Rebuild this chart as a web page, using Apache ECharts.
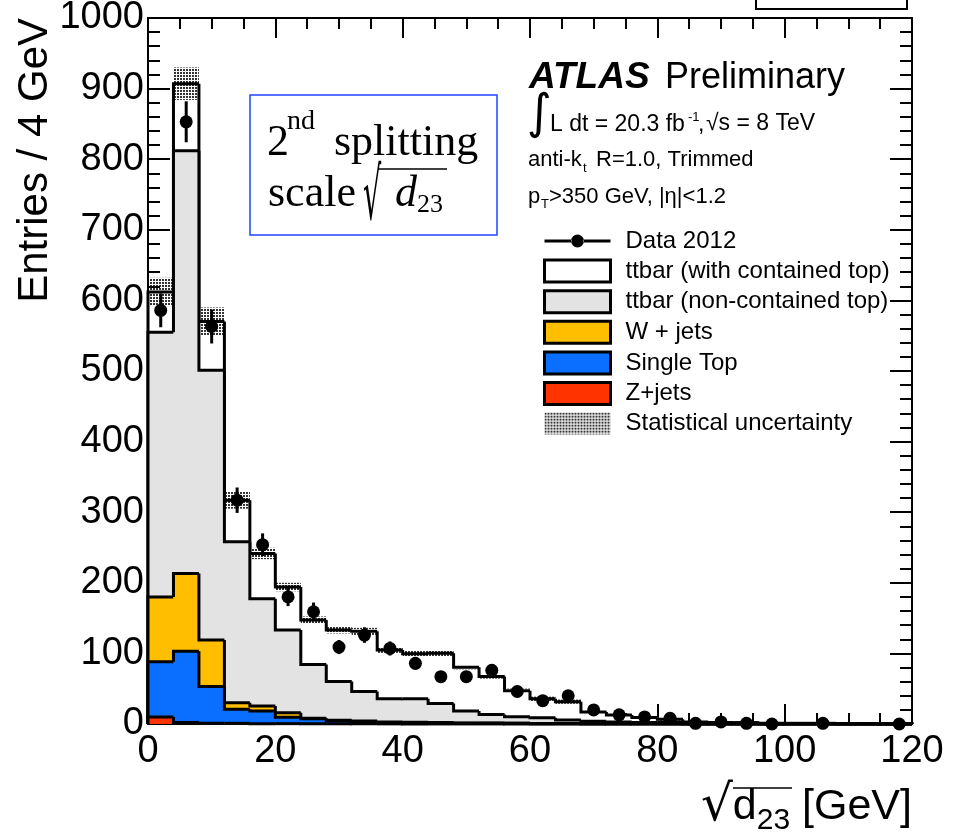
<!DOCTYPE html>
<html>
<head>
<meta charset="utf-8">
<script src="https://cdn.jsdelivr.net/npm/echarts@6/dist/echarts.min.js"></script>
<style>
html,body{margin:0;padding:0;background:#fff;}
#c{width:953px;height:835px;}
</style>
</head>
<body>
<div id="c"></div>
<script>
// ---- data ----
const binLow = [0,4,8,12,16,20,24,28,32,36,40,44,48,52,56,60,64,68,72,76,80,84,88,92,96,100,104,108,112,116];
const binWidth = 4;
const xTicks = [0,20,40,60,80,100,120];
const yTicks = [0,100,200,300,400,500,600,700,800,900,1000];

const zJets     = [10,2,1,1,0.5,0.5,0.3,0.3,0.2,0.2,0.1,0.1,0.1,0.1,0,0,0,0,0,0,0,0,0,0,0,0,0,0,0,0];
const singleTop = [78,101,52,20,18,9,7,4,3,2,2,1.5,1,1,1,0.5,0.5,0.4,0.3,0.2,0.2,0.1,0.1,0.1,0,0,0,0,0,0];
const wJets     = [92,110,66,9,7,6.5,1,1,1,0.5,0.5,0.5,0.3,0.2,0.2,0.2,0.1,0.1,0.1,0.1,0,0.1,0,0,0.1,0,0,0,0,0];
const ttNonCont = [375,599,382,228,152,117,76,55,42,33,33,27,17,12,9,8,5,3.5,2.5,2,1.8,1.3,0.9,0.9,0.4,0.5,0.5,0.3,0.3,0.2];
const ttCont    = [57,95,69,59,64,61,63,73,85,69,64,71,62,54,37,27,26,13,10,7,4.6,1.5,1,1,0.5,0.5,0.5,0.2,0.2,0.1];
const statErr   = [20,23,20,12,8,6,5,5,5,4,4,4,3,3,3,3,3,2,2,2,2,1,1,1,1,1,1,1,1,1];
const data2012  = [586,853,563,317,254,180,159,109,126,107,86,67,67,76,46,33,40,20,13,10,8,1,3,1,0,null,1,null,null,0];
const dataErr   = [24,29,24,18,16,13,13,10,11,10,9,8,8,9,7,6,6,4,4,3,3,1,2,1,0,null,1,null,null,0];

const names = {
  data: 'Data 2012',
  cont: 'ttbar (with contained top)',
  non: 'ttbar (non-contained top)',
  w: 'W + jets',
  st: 'Single Top',
  z: 'Z+jets',
  stat: 'Statistical uncertainty'
};
const colors = { cont:'#ffffff', non:'#e3e3e3', w:'#ffbf00', st:'#0a6eff', z:'#ff3300' };

// ---- helpers ----
function addArr(a, b){ return a.map((v,i)=>v + b[i]); }
const cumZ   = zJets.slice();
const cumST  = addArr(cumZ, singleTop);
const cumW   = addArr(cumST, wJets);
const cumNon = addArr(cumW, ttNonCont);
const cumTot = addArr(cumNon, ttCont);

const pc = document.createElement('canvas');
pc.width = 3; pc.height = 3;
const pg = pc.getContext('2d');
pg.fillStyle = 'rgba(0,0,0,0.8)';
pg.fillRect(0,0,2,2);
const dotPattern = { image: pc, repeat: 'repeat' };

function histSeries(name, cum, color){
  const n = binLow.length;
  return {
    name: name, type: 'custom', xAxisIndex: 0, yAxisIndex: 0,
    data: binLow.map((lo,i)=>[lo, lo+binWidth, cum[i], i>0?cum[i-1]:0, i===n-1?1:0]),
    encode: { x:[0,1], y:[2] },
    itemStyle: { color: color },
    renderItem: function(params, api){
      const lo=api.value(0), hi=api.value(1), top=api.value(2), prev=api.value(3), last=api.value(4);
      const a = api.coord([lo,0]), b = api.coord([hi,top]), p = api.coord([lo,prev]);
      const pts = [[a[0],p[1]],[a[0],b[1]],[b[0],b[1]]];
      if (last) pts.push([b[0],a[1]]);
      return { type:'group', children:[
        { type:'rect', shape:{ x:a[0], y:b[1], width:(b[0]-a[0]) + (last?0:0.6), height:a[1]-b[1] }, style:{ fill: color } },
        { type:'polyline', shape:{ points: pts }, style:{ stroke:'#000', lineWidth:3, fill:null } }
      ]};
    },
    z: 2
  };
}

const dataIcon = 'path://M0,0 L0.01,0 L0.01,0.01 Z M66,22 L65.99,22 L65.99,21.99 Z ' +
  'M0,9.5 L27,9.5 L27,12.5 L0,12.5 Z M39,9.5 L66,9.5 L66,12.5 L39,12.5 Z ' +
  'M26.5,11 A6.5,6.5 0 1,0 39.5,11 A6.5,6.5 0 1,0 26.5,11 Z';

const FONT = 'Liberation Sans';

function axisCommon(){
  return {
    axisLine: { show:true, onZero:false, lineStyle:{ color:'#000', width:2 } },
    splitLine: { show:false },
    minorSplitLine: { show:false },
    nameMoveOverlap: false
  };
}

const option = {
  backgroundColor: '#fff',
  animation: false,
  grid: { left:148, top:18, right:41, bottom:111, containLabel:false, outerBoundsMode:'none' },
  xAxis: [
    Object.assign(axisCommon(), {
      type:'value', min:0, max:120, interval:20, position:'bottom',
      axisTick: { show:true, inside:true, length:20, lineStyle:{ color:'#000', width:2 } },
      minorTick: { show:true, splitNumber:4, length:11, lineStyle:{ color:'#000', width:2 } },
      axisLabel: { show:true, fontSize:38, fontFamily:FONT, color:'#000', margin:9, showMinLabel:true, showMaxLabel:true, hideOverlap:false,
        formatter: function(v){ return xTicks.indexOf(v) >= 0 ? String(v) : ''; } },
      name: '{r|√}{d|d}{s|23}{t| [GeV]}',
      nameLocation: 'end', nameGap: 0,
      nameTextStyle: {
        align:'right', verticalAlign:'top', padding:[58,0,0,0], color:'#000',
        fontFamily: FONT, fontSize: 43, lineHeight: 50,
        rich: {
          r: { fontFamily:'DejaVu Serif', fontSize:50, lineHeight:50, color:'#000' },
          d: { fontFamily:FONT, fontSize:43, lineHeight:50, color:'#000' },
          s: { fontFamily:FONT, fontSize:30, lineHeight:50, color:'#000', padding:[27,0,0,0] },
          t: { fontFamily:FONT, fontSize:43, lineHeight:50, color:'#000' }
        }
      }
    }),
    Object.assign(axisCommon(), {
      type:'value', min:0, max:120, interval:20, position:'top',
      axisTick: { show:true, inside:true, length:20, lineStyle:{ color:'#000', width:2 } },
      minorTick: { show:true, splitNumber:4, length:11, lineStyle:{ color:'#000', width:2 } },
      axisLabel: { show:false }
    })
  ],
  yAxis: [
    Object.assign(axisCommon(), {
      type:'value', min:0, max:1000, interval:100, position:'left',
      axisTick: { show:true, inside:true, length:22, lineStyle:{ color:'#000', width:2 } },
      minorTick: { show:true, splitNumber:5, length:12, lineStyle:{ color:'#000', width:2 } },
      axisLabel: { show:true, fontSize:38, fontFamily:FONT, color:'#000', margin:4, showMinLabel:true, showMaxLabel:true, hideOverlap:false,
        formatter: function(v){ return yTicks.indexOf(v) >= 0 ? String(v) : ''; } },
      name: 'Entries / 4 GeV',
      nameLocation: 'end', nameGap: 0, nameRotate: 90,
      nameTextStyle: { fontSize:42, fontFamily:FONT, color:'#000', align:'right', verticalAlign:'bottom', padding:[0,0,92,0] }
    }),
    Object.assign(axisCommon(), {
      type:'value', min:0, max:1000, interval:100, position:'right',
      axisTick: { show:true, inside:true, length:22, lineStyle:{ color:'#000', width:2 } },
      minorTick: { show:true, splitNumber:5, length:12, lineStyle:{ color:'#000', width:2 } },
      axisLabel: { show:false }
    })
  ],
  legend: {
    show: true, orient:'vertical', left:543, top:229, padding:0,
    itemWidth:66, itemHeight:22, itemGap:5.6, selectedMode:false,
    textStyle: { fontSize:24, lineHeight:22, fontFamily:FONT, color:'#000', padding:[0,0,0,10] },
    data: [
      { name:names.data, icon:dataIcon, itemStyle:{ color:'#000', borderWidth:0, opacity:1 } },
      { name:names.cont, icon:'rect', itemStyle:{ color:colors.cont, borderColor:'#000', borderWidth:3 } },
      { name:names.non,  icon:'rect', itemStyle:{ color:colors.non,  borderColor:'#000', borderWidth:3 } },
      { name:names.w,    icon:'rect', itemStyle:{ color:colors.w,    borderColor:'#000', borderWidth:3 } },
      { name:names.st,   icon:'rect', itemStyle:{ color:colors.st,   borderColor:'#000', borderWidth:3 } },
      { name:names.z,    icon:'rect', itemStyle:{ color:colors.z,    borderColor:'#000', borderWidth:3 } },
      { name:names.stat, icon:'rect', itemStyle:{ color:dotPattern,  borderWidth:0 } }
    ]
  },
  series: [
    histSeries(names.cont, cumTot, colors.cont),
    histSeries(names.non,  cumNon, colors.non),
    histSeries(names.w,    cumW,   colors.w),
    histSeries(names.st,   cumST,  colors.st),
    histSeries(names.z,    cumZ,   colors.z),
    {
      name: names.stat, type:'custom', xAxisIndex:0, yAxisIndex:0, z:3,
      itemStyle: { color: dotPattern },
      data: binLow.map((lo,i)=>[lo, lo+binWidth, cumTot[i]-statErr[i], cumTot[i]+statErr[i]]),
      encode: { x:[0,1], y:[2,3] },
      renderItem: function(params, api){
        const a = api.coord([api.value(0), api.value(2)]);
        const b = api.coord([api.value(1), api.value(3)]);
        return { type:'rect', shape:{ x:a[0], y:b[1], width:b[0]-a[0], height:a[1]-b[1] }, style:{ fill: dotPattern } };
      }
    },
    {
      type:'custom', xAxisIndex:0, yAxisIndex:0, z:4, silent:true,
      data: binLow.map((lo,i)=> data2012[i]==null ? [lo+binWidth/2,'-','-'] : [lo+binWidth/2, data2012[i]-dataErr[i], data2012[i]+dataErr[i]]),
      encode: { x:0, y:[1,2] },
      renderItem: function(params, api){
        if (isNaN(api.value(1))) return null;
        const a = api.coord([api.value(0), api.value(1)]);
        const b = api.coord([api.value(0), api.value(2)]);
        return { type:'line', shape:{ x1:a[0], y1:a[1], x2:b[0], y2:b[1] }, style:{ stroke:'#000', lineWidth:3 } };
      }
    },
    {
      name: names.data, type:'scatter', xAxisIndex:0, yAxisIndex:0, z:5, clip:false,
      symbol:'circle', symbolSize:13,
      itemStyle: { color:'#000', opacity:1 },
      data: binLow.map((lo,i)=> data2012[i]==null ? [lo+binWidth/2,'-'] : [lo+binWidth/2, data2012[i]])
    }
  ],
  graphic: [
    // partial box at top right of the picture
    { type:'rect', shape:{ x:756, y:-20, width:151, height:29 }, style:{ fill:null, stroke:'#000', lineWidth:2 }, z:10 },
    // overline of the radical in the x-axis title
    { type:'line', shape:{ x1:733, y1:788, x2:792, y2:788 }, style:{ stroke:'#000', lineWidth:1.5 }, z:10 },
    // annotation box
    { type:'rect', shape:{ x:250, y:95, width:247, height:140 }, style:{ fill:'#fff', stroke:'#1f45ff', lineWidth:1.5 }, z:10 },
    { type:'text', left:267, top:121, z:11, style:{ text:'2', font:'44px "Liberation Serif"', fill:'#000' } },
    { type:'text', left:287, top:108, z:11, style:{ text:'nd', font:'28px "Liberation Serif"', fill:'#000' } },
    { type:'text', left:334, top:121, z:11, style:{ text:'splitting', font:'44px "Liberation Serif"', fill:'#000' } },
    { type:'text', left:268, top:172, z:11, style:{ text:'scale', font:'44px "Liberation Serif"', fill:'#000' } },
    { type:'text', x:363, y:164, scaleX:0.55, scaleY:1.38, z:11, style:{ text:'√', font:'52px "DejaVu Serif"', fill:'#000' } },
    { type:'line', shape:{ x1:378, y1:169, x2:447, y2:169 }, style:{ stroke:'#000', lineWidth:1.5 }, z:11 },
    { type:'text', left:395, top:172, z:11, style:{ text:'d', font:'italic 44px "Liberation Serif"', fill:'#000' } },
    { type:'text', left:417, top:192, z:11, style:{ text:'23', font:'26px "Liberation Serif"', fill:'#000' } },
    // ATLAS label block
    { type:'text', left:529, top:59, z:11, style:{ text:'ATLAS', font:'italic bold 37px "Liberation Sans"', fill:'#000' } },
    { type:'text', left:665, top:60, z:11, style:{ text:'Preliminary', font:'36px "Liberation Sans"', fill:'#000' } },
    { type:'text', left:527, top:92, z:11, style:{ text:'∫', font:'48px "DejaVu Sans"', fill:'#000' } },
    { type:'text', left:550, top:113, z:11, style:{ text:'L dt = 20.3 fb', font:'23px "Liberation Sans"', fill:'#000' } },
    { type:'text', left:688, top:111, z:11, style:{ text:'-1', font:'13px "Liberation Sans"', fill:'#000' } },
    { type:'text', left:698, top:113, z:11, style:{ text:',', font:'23px "Liberation Sans"', fill:'#000' } },
    { type:'text', left:706, top:112, z:11, style:{ text:'√s = 8 TeV', font:'23px "Liberation Sans"', fill:'#000' } },
    { type:'text', left:528, top:149, z:11, style:{ text:'anti-k', font:'22px "Liberation Sans"', fill:'#000' } },
    { type:'text', left:583, top:162, z:11, style:{ text:'t', font:'13px "Liberation Sans"', fill:'#000' } },
    { type:'text', left:596, top:149, z:11, style:{ text:'R=1.0, Trimmed', font:'22px "Liberation Sans"', fill:'#000' } },
    { type:'text', left:528, top:186, z:11, style:{ text:'p', font:'22px "Liberation Sans"', fill:'#000' } },
    { type:'text', left:541, top:198, z:11, style:{ text:'T', font:'13px "Liberation Sans"', fill:'#000' } },
    { type:'text', left:549, top:186, z:11, style:{ text:'>350 GeV, |η|<1.2', font:'22px "Liberation Sans"', fill:'#000' } }
  ]
};

const chart = echarts.init(document.getElementById('c'), null, { renderer:'canvas' });
chart.setOption(option);
</script>
</body>
</html>
